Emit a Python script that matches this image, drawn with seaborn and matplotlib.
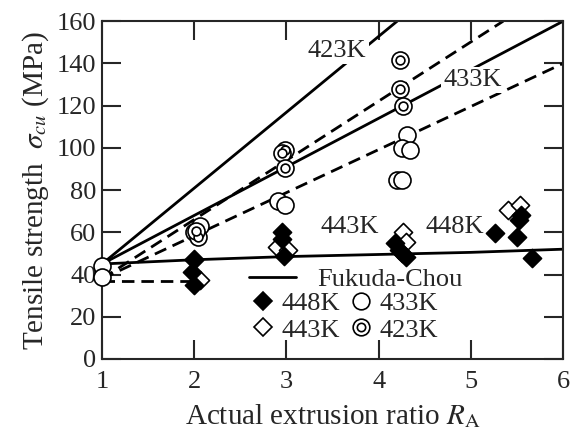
import matplotlib
matplotlib.use("Agg")
import matplotlib.pyplot as plt
import seaborn as sns
from matplotlib.lines import Line2D

# measured points: actual extrusion ratio vs tensile strength (MPa)
ra_448 = [2.0, 1.98, 2.0, 2.95, 2.95, 2.97, 4.18, 4.22, 4.25, 4.3, 5.26, 5.5, 5.52, 5.54, 5.66]
ts_448 = [47, 41, 35, 60, 57, 49, 55, 51.5, 50, 48.5, 59.5, 58, 66, 68, 48]
ra_443 = [2.06, 2.0, 2.9, 3.02, 4.26, 4.3, 5.4, 5.53]
ts_443 = [37.5, 47.5, 53, 51.5, 60, 55.5, 70.5, 73]
ra_433 = [1.0, 1.0, 2.06, 2.0, 2.91, 2.98, 4.31, 4.25, 4.34, 4.2, 4.25]
ts_433 = [44, 39, 63, 60, 75, 73, 106, 100, 99, 85, 85]
ra_423 = [2.04, 2.02, 2.98, 2.95, 2.98, 4.23, 4.23, 4.26]
ts_423 = [58, 60.5, 99, 97.5, 90.5, 141.5, 128, 120]

# Fukuda-Chou predictions (solid) and fits (dashed)
fc448_ra = [1, 2, 3, 4, 5, 6]
fc448_ts = [45, 47, 48.5, 49.5, 50.5, 52]
fc423_ra = [1, 4.2]
fc423_ts = [45, 160]
fc433_ra = [1, 6]
fc433_ts = [45, 160]
fit423_ra = [1, 5.35]
fit423_ts = [38, 160]
fit433_ra = [1, 6]
fit433_ts = [38, 140]
fit448_ra = [1, 2]
fit448_ts = [37, 37]

sns.set_style("ticks")
plt.rcParams['font.family'] = ['Liberation Serif', 'DejaVu Serif']
plt.rcParams['mathtext.fontset'] = 'stix'

fig = plt.figure(figsize=(5.7, 4.32), dpi=100)
ax = fig.add_axes([0.179, 0.169, 0.809, 0.782])

lw = 2.0
dash = (0, (4.5, 2.5))
for xs, ys in [(fc423_ra, fc423_ts), (fc433_ra, fc433_ts), (fc448_ra, fc448_ts)]:
    sns.lineplot(x=xs, y=ys, ax=ax, color='black', lw=lw, sort=False, estimator=None, zorder=2)
for xs, ys in [(fit423_ra, fit423_ts), (fit433_ra, fit433_ts), (fit448_ra, fit448_ts)]:
    sns.lineplot(x=xs, y=ys, ax=ax, color='black', lw=lw, linestyle=dash, sort=False, estimator=None, zorder=2)

sns.scatterplot(x=ra_443, y=ts_443, ax=ax, marker='D', s=85, color='white', edgecolor='black', linewidth=1.2, zorder=3)
sns.scatterplot(x=ra_448, y=ts_448, ax=ax, marker='D', s=85, color='black', edgecolor='black', linewidth=1.2, zorder=4)
sns.scatterplot(x=ra_433, y=ts_433, ax=ax, marker='o', s=150, color='white', edgecolor='black', linewidth=1.2, zorder=5, clip_on=False)
sns.scatterplot(x=ra_423, y=ts_423, ax=ax, marker='o', s=150, color='white', edgecolor='black', linewidth=1.2, zorder=6)
sns.scatterplot(x=ra_423, y=ts_423, ax=ax, marker='o', s=40, color='white', edgecolor='black', linewidth=1.2, zorder=7)

fs = 19
box = dict(facecolor='white', edgecolor='none', pad=1.5)
ax.text(3.55, 146, "423K", fontsize=fs, ha='center', va='center', bbox=box, zorder=8)
ax.text(5.02, 132, "433K", fontsize=fs, ha='center', va='center', bbox=box, zorder=8)
ax.text(3.69, 62.5, "443K", fontsize=fs, ha='center', va='center', zorder=8)
ax.text(4.82, 62.5, "448K", fontsize=fs, ha='center', va='center', zorder=8)

ax.set_xlim(1, 6)
ax.set_ylim(0, 160)
ax.set_xticks([1, 2, 3, 4, 5, 6])
ax.set_yticks(range(0, 161, 20))
ax.tick_params(direction='in', length=14, width=1.5, labelsize=fs, pad=4,
               top=True, right=True)
ax.tick_params(axis='x', pad=9)
for sp in ax.spines.values():
    sp.set_linewidth(1.5)
    sp.set_visible(True)

ax.set_xlabel(r"Actual extrusion ratio $R_{\mathrm{A}}$", fontsize=21, labelpad=6)
ax.set_ylabel(r"Tensile strength  $\sigma_{cu}$ (MPa)", fontsize=21, labelpad=4)

h_fc = Line2D([], [], color='black', lw=lw)
leg1 = ax.legend([h_fc], ["Fukuda-Chou"], loc='center left', bbox_to_anchor=(0.29, 0.235),
                 frameon=False, fontsize=fs, handlelength=1.8, handletextpad=0.8, borderpad=0)
ax.add_artist(leg1)
mk = dict(linestyle='none', markeredgecolor='black', markeredgewidth=1.2)
h448 = Line2D([], [], marker='D', markersize=9, markerfacecolor='black', **mk)
h443 = Line2D([], [], marker='D', markersize=9, markerfacecolor='white', **mk)
h433 = Line2D([], [], marker='o', markersize=12, markerfacecolor='white', **mk)
h423 = (Line2D([], [], marker='o', markersize=12, markerfacecolor='white', **mk),
        Line2D([], [], marker='o', markersize=6, markerfacecolor='white', **mk))
ax.legend([h448, h443, h433, h423], ["448K", "443K", "433K", "423K"], ncol=2,
          loc='center left', bbox_to_anchor=(0.297, 0.125), frameon=False, fontsize=fs,
          handlelength=0.8, handletextpad=0.3, columnspacing=0.4, labelspacing=0.1, borderpad=0)

fig.savefig("out.png", dpi=100)
